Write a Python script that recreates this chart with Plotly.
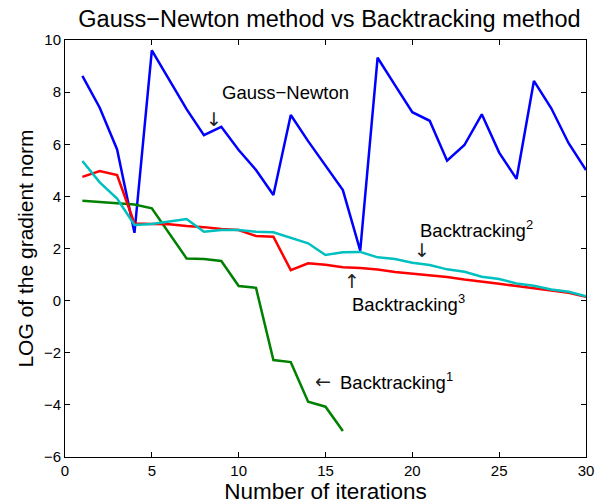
import plotly.graph_objects as go

iters = list(range(1, 31))
gauss_newton = [8.62, 7.4, 5.8, 2.6, 9.6, 8.46, 7.35, 6.35, 6.67, 5.78, 5.01, 4.05, 7.12, 6.12, 5.16,
                4.24, 1.92, 9.32, 8.27, 7.23, 6.9, 5.37, 5.97, 7.15, 5.68, 4.67, 8.43, 7.38, 6.04, 5.01]
bt1_iters = list(range(1, 17))
backtracking1 = [3.83, 3.78, 3.73, 3.69, 3.54, 2.6, 1.62, 1.6, 1.52, 0.56, 0.49, -2.28, -2.36, -3.88, -4.07, -5.0]
backtracking2 = [5.36, 4.54, 3.92, 2.9, 2.94, 3.03, 3.13, 2.64, 2.71, 2.71, 2.64, 2.62, 2.41, 2.2, 1.75,
                 1.86, 1.87, 1.66, 1.6, 1.45, 1.37, 1.2, 1.11, 0.92, 0.83, 0.66, 0.57, 0.43, 0.34, 0.17]
backtracking3 = [4.75, 4.97, 4.82, 2.96, 2.94, 2.93, 2.86, 2.82, 2.75, 2.71, 2.48, 2.45, 1.17, 1.43, 1.38,
                 1.28, 1.25, 1.19, 1.1, 1.03, 0.96, 0.91, 0.81, 0.74, 0.65, 0.56, 0.47, 0.4, 0.3, 0.15]
x_ticks = [0, 5, 10, 15, 20, 25, 30]
y_ticks = [-6, -4, -2, 0, 2, 4, 6, 8, 10]

FONT = "Liberation Sans, Arial, Helvetica, sans-serif"
ARROW_FONT = "DejaVu Sans, sans-serif"

fig = go.Figure()
fig.add_trace(go.Scatter(x=iters, y=gauss_newton, mode="lines", line=dict(color="#0000ff", width=2.5)))
fig.add_trace(go.Scatter(x=bt1_iters, y=backtracking1, mode="lines", line=dict(color="#008000", width=2.5)))
fig.add_trace(go.Scatter(x=iters, y=backtracking3, mode="lines", line=dict(color="#ff0000", width=2.5)))
fig.add_trace(go.Scatter(x=iters, y=backtracking2, mode="lines", line=dict(color="#00bfbf", width=2.5)))

txt_font = dict(family=FONT, size=18.5, color="black")
arr_font = dict(family=ARROW_FONT, size=19, color="#222222")
texts = [
    dict(x=8.9, y=7.99, text="Gauss\u2212Newton", xanchor="left"),
    dict(x=20.35, y=2.75, text="Backtracking<sup>2</sup>", xanchor="left"),
    dict(x=16.4, y=-0.1, text="Backtracking<sup>3</sup>", xanchor="left"),
    dict(x=15.72, y=-3.08, text="Backtracking<sup>1</sup>", xanchor="left"),
]
arrows = [
    dict(x=8.56, y=6.95, text="\u2193"),
    dict(x=20.55, y=1.95, text="\u2193"),
    dict(x=16.54, y=0.75, text="\u2191"),
    dict(x=14.85, y=-3.08, text="\u2190"),
]
for a in texts:
    fig.add_annotation(xref="x", yref="y", showarrow=False, yanchor="middle", font=txt_font, **a)
for a in arrows:
    fig.add_annotation(xref="x", yref="y", showarrow=False, xanchor="center", yanchor="middle",
                       font=arr_font, borderpad=0, **a)

fig.update_layout(
    width=602, height=504,
    margin=dict(l=65, r=8, t=40, b=47),
    paper_bgcolor="white", plot_bgcolor="white",
    showlegend=False,
    title=dict(text="Gauss\u2212Newton method vs Backtracking method", x=0.5473, xanchor="center",
               y=0.963, yanchor="middle", font=dict(family=FONT, size=23.5, color="black")),
    font=dict(family=FONT, color="black"),
)
fig.update_xaxes(range=[0, 30], tickvals=x_ticks, ticks="inside", ticklen=5, tickcolor="black",
                 showline=True, linecolor="black", linewidth=1, mirror="ticks", showgrid=False,
                 zeroline=False, tickfont=dict(family=FONT, size=15, color="black"),
                 ticklabeloverflow="allow",
                 title=dict(text="Number of iterations", font=dict(family=FONT, size=22.5, color="black"), standoff=0))
fig.update_yaxes(range=[-6, 10], tickvals=y_ticks, ticks="inside", ticklen=5, tickcolor="black",
                 showline=True, linecolor="black", linewidth=1, mirror="ticks", showgrid=False,
                 zeroline=False, tickfont=dict(family=FONT, size=15, color="black"),
                 tickformat="d", ticklabeloverflow="allow",
                 title=dict(text="LOG of the gradient norm", font=dict(family=FONT, size=21, color="black"), standoff=4))

fig.write_html("out.html")
